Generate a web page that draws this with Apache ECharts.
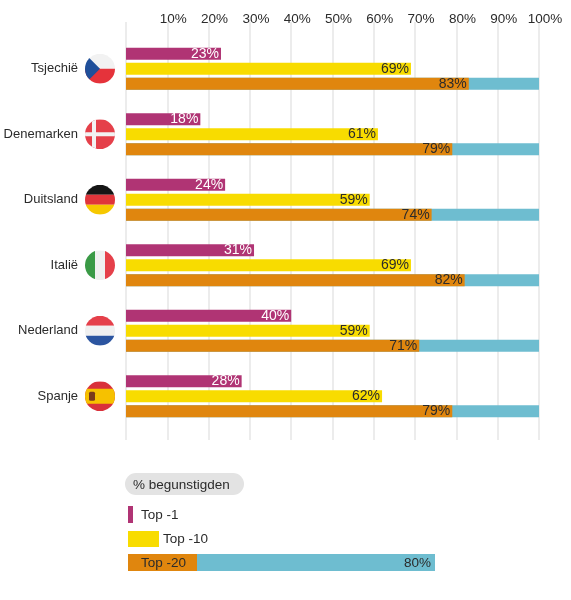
<!DOCTYPE html>
<html>
<head>
    <meta charset="utf-8">
    <title>Begunstigden</title>
    <script src="https://cdn.jsdelivr.net/npm/echarts@6/dist/echarts.min.js" type="text/javascript"></script>
    <style>
        html, body { margin: 0; padding: 0; background: #fff; }
    </style>
</head>
<body>
<div id="chart" style="width: 571px;height:600px;"></div>
<script type="text/javascript">
    // data
    var countries = ['Tsjechië', 'Denemarken', 'Duitsland', 'Italië', 'Nederland', 'Spanje'];
    var top1 = [23, 18, 24, 31, 40, 28];
    var top10 = [69, 61, 59, 69, 59, 62];
    var top20 = [83, 79, 74, 82, 71, 79];
    var legendNames = ['Top -1', 'Top -10', 'Top -20'];
    var legendTitle = '% begunstigden';
    var legendRest = '80%';

    var purple = '#b03474', yellow = '#f8dc00', orange = '#e0860e', blue = '#6ebdd0';
    var txt = '#2b2b2b';
    var fontFam = '"Liberation Sans", Arial, sans-serif';

    // round flags as small svg images
    function flag(body) {
        var svg = "<svg xmlns='http://www.w3.org/2000/svg' viewBox='0 0 30 30'>" +
            "<defs><clipPath id='c'><circle cx='15' cy='15' r='15'/></clipPath></defs>" +
            "<g clip-path='url(#c)'>" + body + "</g></svg>";
        return 'data:image/svg+xml;charset=utf-8,' + encodeURIComponent(svg);
    }
    var flags = [
        flag("<rect width='30' height='15' fill='#f2f2f2'/><rect y='15' width='30' height='15' fill='#e5333b'/><path d='M0 0L15 15L0 30Z' fill='#1f4f9a'/>"),
        flag("<rect width='30' height='30' fill='#e5404a'/><rect x='7' width='4' height='30' fill='#f2f2f2'/><rect y='13' width='30' height='4' fill='#f2f2f2'/>"),
        flag("<rect width='30' height='10' fill='#151515'/><rect y='10' width='30' height='10' fill='#e0353b'/><rect y='20' width='30' height='10' fill='#f6c800'/>"),
        flag("<rect width='10' height='30' fill='#3a9a46'/><rect x='10' width='10' height='30' fill='#f0f0f0'/><rect x='20' width='10' height='30' fill='#e5404a'/>"),
        flag("<rect width='30' height='10' fill='#e5404a'/><rect y='10' width='30' height='10' fill='#f0f0f0'/><rect y='20' width='30' height='10' fill='#2c55a0'/>"),
        flag("<rect width='30' height='30' fill='#d9313b'/><rect y='7.5' width='30' height='15' fill='#f6c100'/><rect x='4' y='10.5' width='6' height='9' rx='1.5' fill='#7a3a1c'/>")
    ];

    var rich = {
        n: { fontSize: 13, color: txt, fontFamily: fontFam },
        g: { width: 7 }
    };
    flags.forEach(function (u, i) {
        rich['f' + i] = { width: 30, height: 30, backgroundColor: { image: u } };
    });

    function barLabel(color) {
        return {
            show: true,
            position: 'insideRight',
            distance: 2,
            color: color,
            fontSize: 14,
            fontFamily: fontFam,
            formatter: '{c}%'
        };
    }

    var chart = echarts.init(document.getElementById('chart'));
    var option = {
        animation: false,
        grid: [
            { left: 126, width: 413, top: 22, height: 418 },
            { left: 126, width: 413, top: 36, height: 393 }
        ],
        xAxis: [
            {
                gridIndex: 0, type: 'value', position: 'top', min: 0, max: 100, interval: 10,
                axisLine: { show: false }, axisTick: { show: false },
                axisLabel: {
                    margin: -4, color: txt, fontSize: 13.5, fontFamily: fontFam,
                    padding: [0, 0, 0, 12],
                    formatter: function (v) { return v === 0 ? '' : v + '%'; }
                },
                splitLine: { show: true, lineStyle: { color: '#e6e6e6', width: 1.5 } }
            },
            {
                gridIndex: 1, type: 'value', min: 0, max: 100, show: false
            }
        ],
        yAxis: [
            { gridIndex: 0, type: 'value', show: false },
            {
                gridIndex: 1, type: 'category', data: countries, inverse: true,
                axisLine: { show: false }, axisTick: { show: false },
                axisLabel: {
                    margin: 11,
                    formatter: function (v, i) { return '{n|' + v + '}{g|}{f' + i + '|}'; },
                    rich: rich
                }
            }
        ],
        series: [
            {
                name: legendNames[0], type: 'bar', xAxisIndex: 1, yAxisIndex: 1,
                data: top1, barWidth: 12, barGap: '25%',
                itemStyle: { color: purple }, label: barLabel('#fff')
            },
            {
                name: legendNames[1], type: 'bar', xAxisIndex: 1, yAxisIndex: 1,
                data: top10, barWidth: 12, barGap: '25%',
                itemStyle: { color: yellow }, label: barLabel(txt)
            },
            {
                name: legendNames[2], type: 'bar', xAxisIndex: 1, yAxisIndex: 1,
                data: top20, barWidth: 12, barGap: '25%',
                showBackground: true, backgroundStyle: { color: blue, opacity: 1 },
                itemStyle: { color: orange }, label: barLabel(txt)
            }
        ],
        graphic: [
            { type: 'rect', left: 125, top: 473, shape: { width: 119, height: 22, r: 11 }, style: { fill: '#e3e3e3' } },
            { type: 'text', left: 133, top: 478, style: { text: legendTitle, fontSize: 13.5, fill: txt, fontFamily: fontFam } },
            { type: 'rect', left: 128, top: 506, shape: { width: 5, height: 17 }, style: { fill: purple } },
            { type: 'text', left: 141, top: 508, style: { text: legendNames[0], fontSize: 13.5, fill: txt, fontFamily: fontFam } },
            { type: 'rect', left: 128, top: 531, shape: { width: 31, height: 16 }, style: { fill: yellow } },
            { type: 'text', left: 163, top: 532, style: { text: legendNames[1], fontSize: 13.5, fill: txt, fontFamily: fontFam } },
            { type: 'rect', left: 128, top: 554, shape: { width: 69, height: 17 }, style: { fill: orange } },
            { type: 'rect', left: 197, top: 554, shape: { width: 238, height: 17 }, style: { fill: blue } },
            { type: 'text', left: 141, top: 556, style: { text: legendNames[2], fontSize: 13.5, fill: txt, fontFamily: fontFam } },
            { type: 'text', right: 140, top: 556, style: { text: legendRest, fontSize: 13.5, fill: txt, fontFamily: fontFam } }
        ]
    };
    chart.setOption(option);
</script>
</body>
</html>
